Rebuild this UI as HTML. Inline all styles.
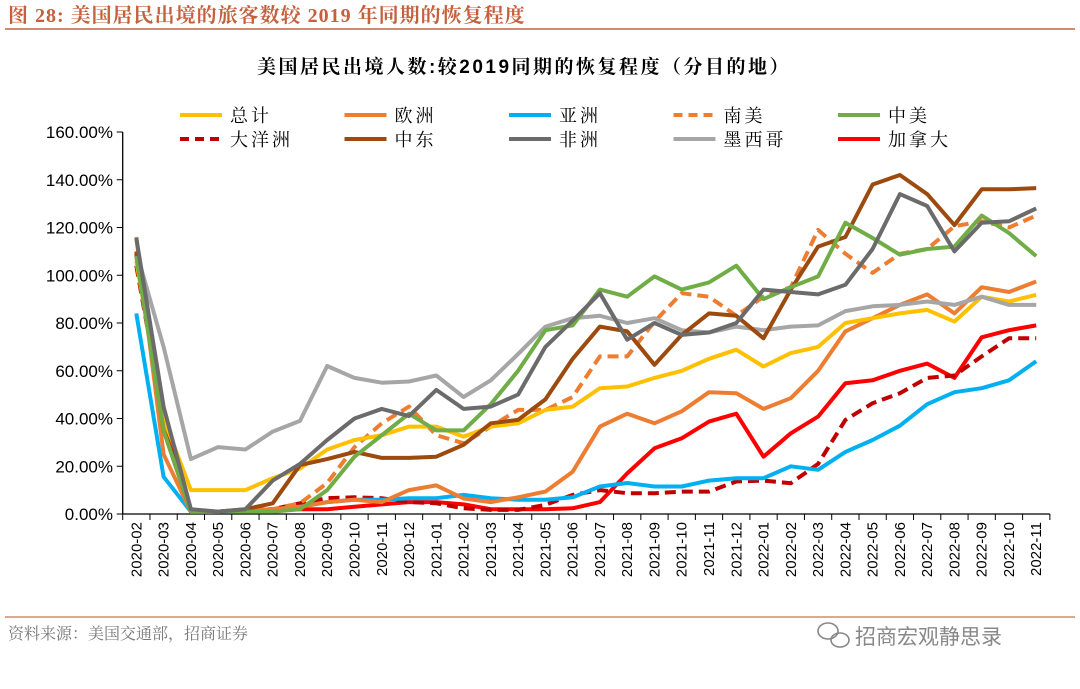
<!DOCTYPE html>
<html><head><meta charset="utf-8"><style>
body{margin:0;width:1080px;height:684px;background:#fff;overflow:hidden;font-family:"Liberation Sans","Noto Serif CJK SC",serif}
</style></head><body>
<svg id="c" width="1080" height="684" xmlns="http://www.w3.org/2000/svg">
<text x="8" y="22" font-size="20" fill="#c5603e" font-weight="bold" letter-spacing="1" font-family="Liberation Serif,Noto Serif CJK SC,serif">图 28:  美国居民出境的旅客数较 2019 年同期的恢复程度</text>
<line x1="5" y1="29" x2="1075" y2="29" stroke="#d38a6c" stroke-width="2"/>
<text x="524" y="73" font-size="19" text-anchor="middle" font-weight="bold" fill="#000" letter-spacing="2.5" font-family="Liberation Sans,Noto Serif CJK SC,serif">美国居民出境人数:较2019同期的恢复程度（分目的地）</text>
<g id="axes"></g><g id="series"></g><g id="legend"></g>
<line x1="5" y1="617" x2="1075" y2="617" stroke="#d38a6c" stroke-width="1.5"/>
<text x="8" y="639" font-size="16" fill="#777" font-family="Liberation Serif,Noto Serif CJK SC,serif">资料来源：美国交通部，招商证券</text>
<g fill="none" stroke="#888" stroke-width="1.6"><ellipse cx="828" cy="631" rx="10" ry="8"/><ellipse cx="840" cy="640" rx="9" ry="7"/></g>
<text x="855" y="644" font-size="21" fill="#888" font-family="Noto Sans CJK SC,sans-serif">招商宏观静思录</text>
</svg>
<script>
const months=[];for(let y=2020;y<=2022;y++)for(let m=1;m<=12;m++){if((y==2020&&m<2)||(y==2022&&m>11))continue;months.push(y+'-'+String(m).padStart(2,'0'));}
const yTicks=[0,20,40,60,80,100,120,140,160];
const total=[106,40,10,10,10,15,19,27,31,33,36.6,36.6,32.4,36.6,38,43.6,45,52.7,53.4,57,60,65,68.8,61.8,67.4,70,80,82,84,85.5,80.6,91,89,91.8];
const europe=[116,25,1,1,1.5,2,3,5,6,5,10,12,6.5,5,7,9.4,17.7,36.6,42,38,43,51,50.6,44,48.5,60,76.5,82,87.6,92,84,95,93,97.4];
const asia=[84,15.6,1,1,1.5,2,3,5,6,6,6.6,6.6,8,6.6,6,6,7,11.5,13,11.5,11.5,14,15,15,20,18.5,26,31,37,46,51,52.7,56,64];
const southAm=[108,35,1,1,1.5,2,4.5,13,28,38,45,33,29.6,36.6,43.6,43.6,49,66,66,80.6,92.5,91,83,91,95,119,109,101,109,111,120.5,122.6,120,125];
const centralAm=[108,35,1,1,1,1,2,10,24,33,42,35,35,46,60,77,79,94,91,99.5,94,97,104,90,95,99.5,122,115.6,108.6,111,112,125,117.7,108];
const oceania=[104,40,1,1,1.5,2,4.5,6.6,7,6.6,5,4.5,2.4,1.7,1.7,3.8,8,10,8.7,8.7,9.4,9.4,13.6,14,12.9,21,39.4,46.4,50.6,57,58,66,73.6,73.6];
const middleEast=[110,35,1,1,2,4.5,20.5,23,26,23.5,23.5,24,29,38,39.4,48,65,78.5,76.5,62.5,75,84,83,73.6,94,112,116,138,142,134,121,136,136,136.5];
const africa=[115.6,45,2,1,2,14,21,31,40,44,41,52,44,45,50,70,81,92.5,73,80,75,76,80,94,93,92,96,111,134,129,110,122,122.6,128];
const mexico=[110,70,23,28,27,34.5,39,62,57,55,55.5,58,49,56,67,78.5,82,83,80,82,77,76,78.5,77,78.5,79,85,87,87.6,89,87.6,91,87.6,87.6];
const canada=[109,41,1,1,1.5,2,2,2,3,4,5,5,4,2,2,2,2.4,5,17,27.5,31.7,38.7,42,24,33.8,40.8,54.8,56,60,63,57,74,77,79];
const names=['总计','欧洲','亚洲','南美','中美','大洋洲','中东','非洲','墨西哥','加拿大'];
const keys=['total','europe','asia','south-america','central-america','oceania','middle-east','africa','mexico','canada'];
const dataSets=[total,europe,asia,southAm,centralAm,oceania,middleEast,africa,mexico,canada];
const colors=['#ffc000','#ed7d31','#00b0f0','#ed7d31','#70ad47','#c00000','#9c4a0e','#6b6b6b','#a6a6a6','#ff0000'];
const dashed=[0,0,0,1,0,1,0,0,0,0];
const NS='http://www.w3.org/2000/svg';
const X0=122.7,BW=27.27,Y0=514,YS=2.3875;
const xs=i=>X0+BW*(i+0.5), ys=v=>Y0-v*YS;
function mk(t,a,p){const e=document.createElementNS(NS,t);for(const k in a)e.setAttribute(k,a[k]);p.appendChild(e);return e;}
const ax=document.getElementById('axes');
const yl=mk('line',{x1:X0,y1:ys(160),x2:X0,y2:Y0,stroke:'#000','stroke-width':1.3},ax);


const xl=mk('line',{x1:X0,y1:Y0,x2:X0+BW*months.length,y2:Y0,stroke:'#000','stroke-width':1.3},ax);


yTicks.forEach(v=>{mk('line',{x1:X0-6,y1:ys(v),x2:X0,y2:ys(v),stroke:'#000'},ax);
const t=mk('text',{x:113,y:ys(v)+6,'text-anchor':'end','font-size':17,fill:'#000'},ax);t.textContent=v.toFixed(2)+'%';

});
months.forEach((m,i)=>{mk('line',{x1:X0+BW*i,y1:Y0,x2:X0+BW*i,y2:Y0+6,stroke:'#000'},ax);
if(i==months.length-1)mk('line',{x1:X0+BW*(i+1),y1:Y0,x2:X0+BW*(i+1),y2:Y0+6,stroke:'#000'},ax);
const t=mk('text',{x:0,y:0,'text-anchor':'end','font-size':15,fill:'#000',transform:`translate(${xs(i)+5},${Y0+8}) rotate(-90)`},ax);t.textContent=m;

});
const sg=document.getElementById('series');
const order=[9,5,2,1,3,0,8,6,4,7];
order.forEach(k=>{const d=dataSets[k].map((v,i)=>(i?'L':'M')+xs(i).toFixed(1)+','+ys(v).toFixed(1)).join(' ');
const p=mk('path',{d:d,fill:'none',stroke:colors[k],'stroke-width':4,'stroke-linejoin':'round'},sg);
if(dashed[k])p.setAttribute('stroke-dasharray','11,6');

});
const lg=document.getElementById('legend');
names.forEach((n,k)=>{const col=k%5,row=Math.floor(k/5);const x=180+col*164.5,y=115+row*24;
const g=mk('g',{},lg);


const l=mk('line',{x1:x,y1:y,x2:x+42,y2:y,stroke:colors[k],'stroke-width':4},g);
if(dashed[k])l.setAttribute('stroke-dasharray','9,6');
const t=mk('text',{x:x+50,y:y+7,'font-size':18,fill:'#000','letter-spacing':'3','font-family':'Liberation Serif,Noto Serif CJK SC,serif'},g);t.textContent=n;});
</script>
</body></html>
